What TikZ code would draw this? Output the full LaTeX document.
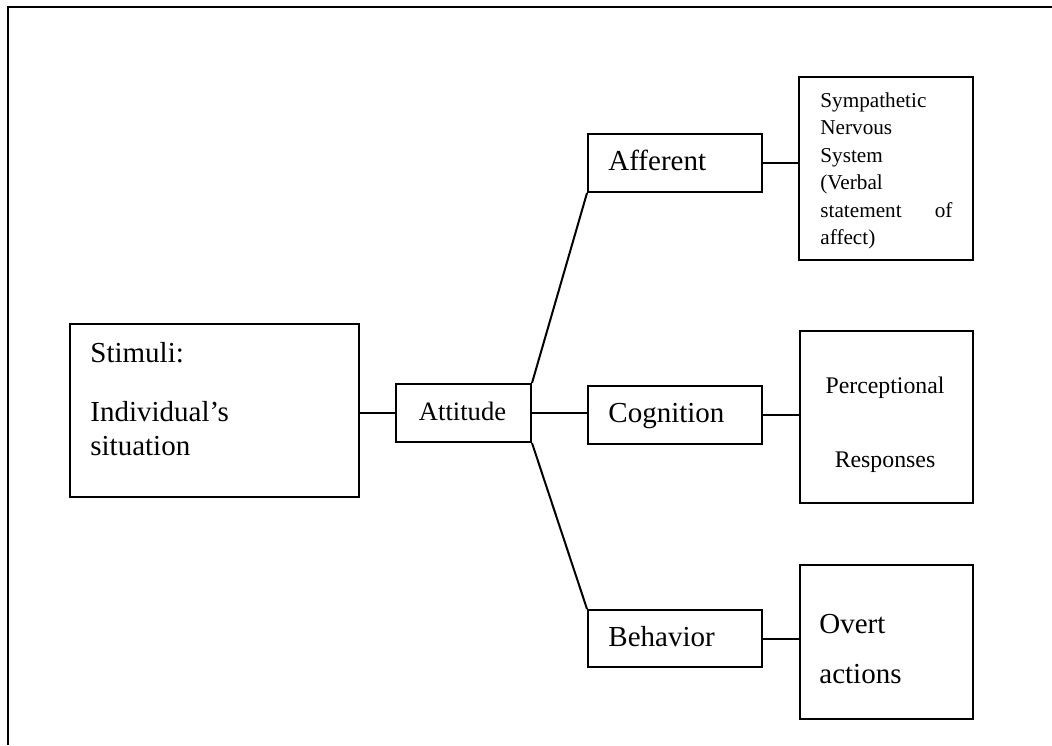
\documentclass[tikz,border=0pt]{standalone}
\usepackage{fontspec}
\setmainfont{Liberation Serif}
\newcommand\fbig{\fontsize{14.5pt}{17pt}\selectfont}
\newcommand\fmid{\fontsize{13.3pt}{16pt}\selectfont}
\newcommand\fper{\fontsize{11.9pt}{14pt}\selectfont}
\newcommand\fsym{\fontsize{10.6pt}{13pt}\selectfont}
\begin{document}
\begin{tikzpicture}[x=0.5pt,y=-0.5pt,
  box/.style={draw,line width=1pt,inner sep=0pt,anchor=north west,rectangle},
  txt/.style={inner sep=0pt,anchor=base west},
  ctxt/.style={inner sep=0pt,anchor=base},
  conn/.style={line width=1pt}]
\useasboundingbox (0,0) rectangle (1052,745);
\fill[white] (0,0) rectangle (1052,745);
% frame
\draw[line width=1.3pt] (8,745) -- (8,7) -- (1052,7);
% boxes
\node[box,minimum width=144.5pt,minimum height=86.5pt] (stim) at (69,323) {};
\node[box,minimum width=67.5pt,minimum height=29pt] (att) at (395,383) {};
\node[box,minimum width=87pt,minimum height=29pt] (aff) at (587,133) {};
\node[box,minimum width=87pt,minimum height=29pt] (cog) at (587,385) {};
\node[box,minimum width=87pt,minimum height=28.5pt] (beh) at (587,609) {};
\node[box,minimum width=87pt,minimum height=91.5pt] (sym) at (798,76) {};
\node[box,minimum width=86.5pt,minimum height=86pt] (per) at (799,330) {};
\node[box,minimum width=86.5pt,minimum height=77pt] (ovr) at (799,564) {};
% texts
\node[txt] (t1) at (90,362) {\fbig Stimuli:};
\node[txt] (t2) at (90,421) {\fbig Individual’s};
\node[txt] (t3) at (90,455) {\fbig situation};
\node[ctxt] (t4) at (462.5,420) {\fmid Attitude};
\node[txt] (t5) at (608,170) {\fbig Afferent};
\node[txt] (t6) at (608,422) {\fbig Cognition};
\node[txt] (t7) at (608,646) {\fbig Behavior};
\node[txt] (s1) at (820,107) {\fsym Sympathetic};
\node[txt] (s2) at (820,134) {\fsym Nervous};
\node[txt] (s3) at (820,162) {\fsym System};
\node[txt] (s4) at (820,189) {\fsym (Verbal};
\node[txt] (s5) at (820,217) {\fsym\makebox[66pt][s]{statement\hfill of}};
\node[txt] (s6) at (820,244) {\fsym affect)};
\node[ctxt] (p1) at (885,393) {\fper Perceptional};
\node[ctxt] (p2) at (885,467) {\fper Responses};
\node[txt] (o1) at (819,633) {\fbig Overt};
\node[txt] (o2) at (819,683) {\fbig actions};
% connectors
\draw[conn] (att.west -| stim.east) -- (att.west);
\draw[conn] (att.east) -- (att.east -| cog.west);
\draw[conn] (att.north east) -- (aff.south west);
\draw[conn] (att.south east) -- (beh.north west);
\draw[conn] (aff.east) -- (aff.east -| sym.west);
\draw[conn] (cog.east) -- (cog.east -| per.west);
\draw[conn] (beh.east) -- (beh.east -| ovr.west);
\end{tikzpicture}
\end{document}
